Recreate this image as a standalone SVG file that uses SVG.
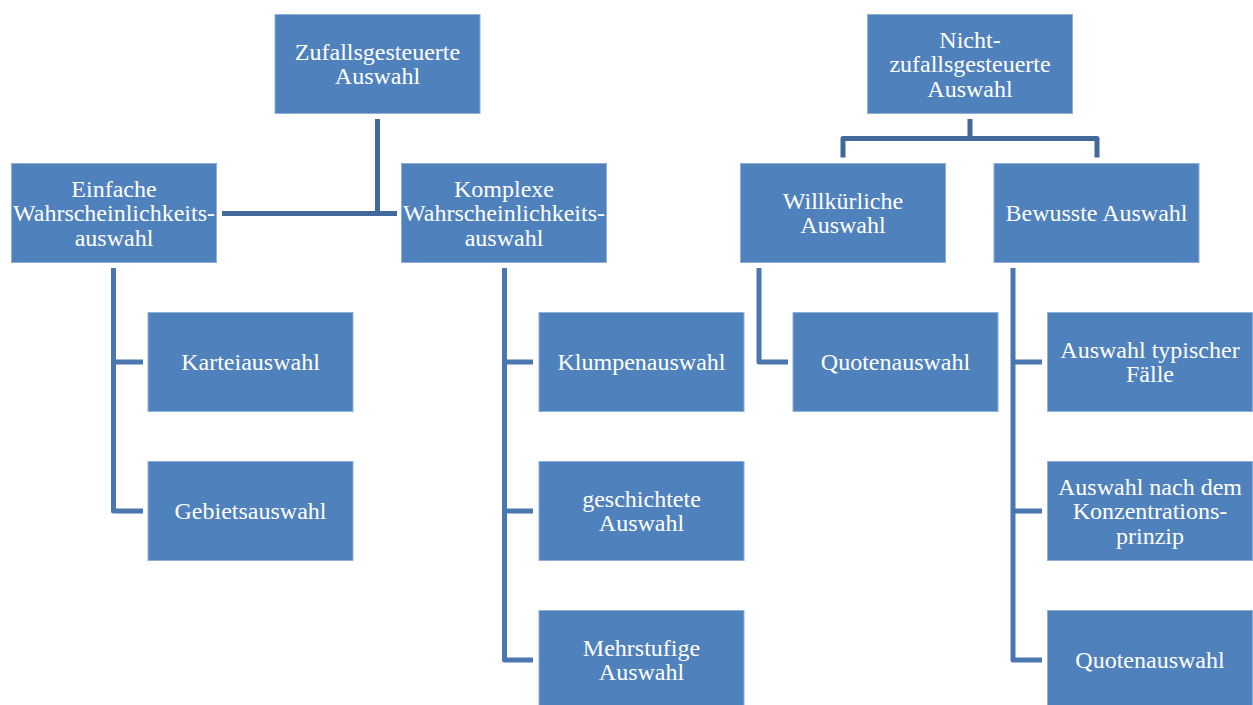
<svg xmlns="http://www.w3.org/2000/svg" width="1253" height="705" viewBox="0 0 1253 705">
<style>
.box{fill:#4f81bd;stroke:#8fb0d8;stroke-width:1}
.t{font-family:"Liberation Serif","Times New Roman",serif;font-size:24px;fill:#ffffff;text-anchor:middle}
.c1{fill:none;stroke:#41699b;stroke-width:5;stroke-linejoin:round}
.c2{fill:none;stroke:#4a77af;stroke-width:5;stroke-linejoin:round}
</style>
<rect width="1253" height="705" fill="#ffffff"/>
<g id="connectors">
<path class="c1" d="M377.5 119 V213.5 M222 213.5 H397"/>
<path class="c1" d="M970 119 V138.5 M843 157.5 V138.5 H1097 V157.5"/>
<path class="c2" d="M113.5 268 V511 H143 M113.5 362 H143"/>
<path class="c2" d="M504.5 268 V660 H533 M504.5 362 H533 M504.5 511 H533"/>
<path class="c2" d="M759 268 V362 H788"/>
<path class="c2" d="M1013 268 V660 H1042 M1013 362 H1042 M1013 511 H1042"/>
</g>
<g id="n-zufall"><rect class="box" x="275" y="14.5" width="205" height="99"/><text class="t" x="377.5" y="59.75">Zufallsgesteuerte</text><text class="t" x="377.5" y="84.25">Auswahl</text></g>
<g id="n-einfache"><rect class="box" x="11.5" y="163.5" width="205" height="99"/><text class="t" x="114" y="196.5">Einfache</text><text class="t" x="114" y="221">Wahrscheinlichkeits-</text><text class="t" x="114" y="245.5">auswahl</text></g>
<g id="n-komplexe"><rect class="box" x="401.5" y="163.5" width="205" height="99"/><text class="t" x="504" y="196.5">Komplexe</text><text class="t" x="504" y="221">Wahrscheinlichkeits-</text><text class="t" x="504" y="245.5">auswahl</text></g>
<g id="n-kartei"><rect class="box" x="148" y="312.5" width="205" height="99"/><text class="t" x="250.5" y="370">Karteiauswahl</text></g>
<g id="n-gebiet"><rect class="box" x="148" y="461.5" width="205" height="99"/><text class="t" x="250.5" y="519">Gebietsauswahl</text></g>
<g id="n-klumpen"><rect class="box" x="539" y="312.5" width="205" height="99"/><text class="t" x="641.5" y="370">Klumpenauswahl</text></g>
<g id="n-geschichtet"><rect class="box" x="539" y="461.5" width="205" height="99"/><text class="t" x="641.5" y="506.75">geschichtete</text><text class="t" x="641.5" y="531.25">Auswahl</text></g>
<g id="n-mehrstufig"><rect class="box" x="539" y="610.5" width="205" height="99"/><text class="t" x="641.5" y="655.75">Mehrstufige</text><text class="t" x="641.5" y="680.25">Auswahl</text></g>
<g id="n-nicht"><rect class="box" x="867.5" y="14.5" width="205" height="99"/><text class="t" x="970" y="47.5">Nicht-</text><text class="t" x="970" y="72">zufallsgesteuerte</text><text class="t" x="970" y="96.5">Auswahl</text></g>
<g id="n-willk"><rect class="box" x="740.5" y="163.5" width="205" height="99"/><text class="t" x="843" y="208.75">Willkürliche</text><text class="t" x="843" y="233.25">Auswahl</text></g>
<g id="n-bewusst"><rect class="box" x="994" y="163.5" width="205" height="99"/><text class="t" x="1096.5" y="221">Bewusste Auswahl</text></g>
<g id="n-quoten1"><rect class="box" x="793" y="312.5" width="205" height="99"/><text class="t" x="895.5" y="370">Quotenauswahl</text></g>
<g id="n-typisch"><rect class="box" x="1047.5" y="312.5" width="205" height="99"/><text class="t" x="1150" y="357.75">Auswahl typischer</text><text class="t" x="1150" y="382.25">Fälle</text></g>
<g id="n-konzentration"><rect class="box" x="1047.5" y="461.5" width="205" height="99"/><text class="t" x="1150" y="494.5">Auswahl nach dem</text><text class="t" x="1150" y="519">Konzentrations-</text><text class="t" x="1150" y="543.5">prinzip</text></g>
<g id="n-quoten2"><rect class="box" x="1047.5" y="610.5" width="205" height="99"/><text class="t" x="1150" y="668">Quotenauswahl</text></g>
</svg>
